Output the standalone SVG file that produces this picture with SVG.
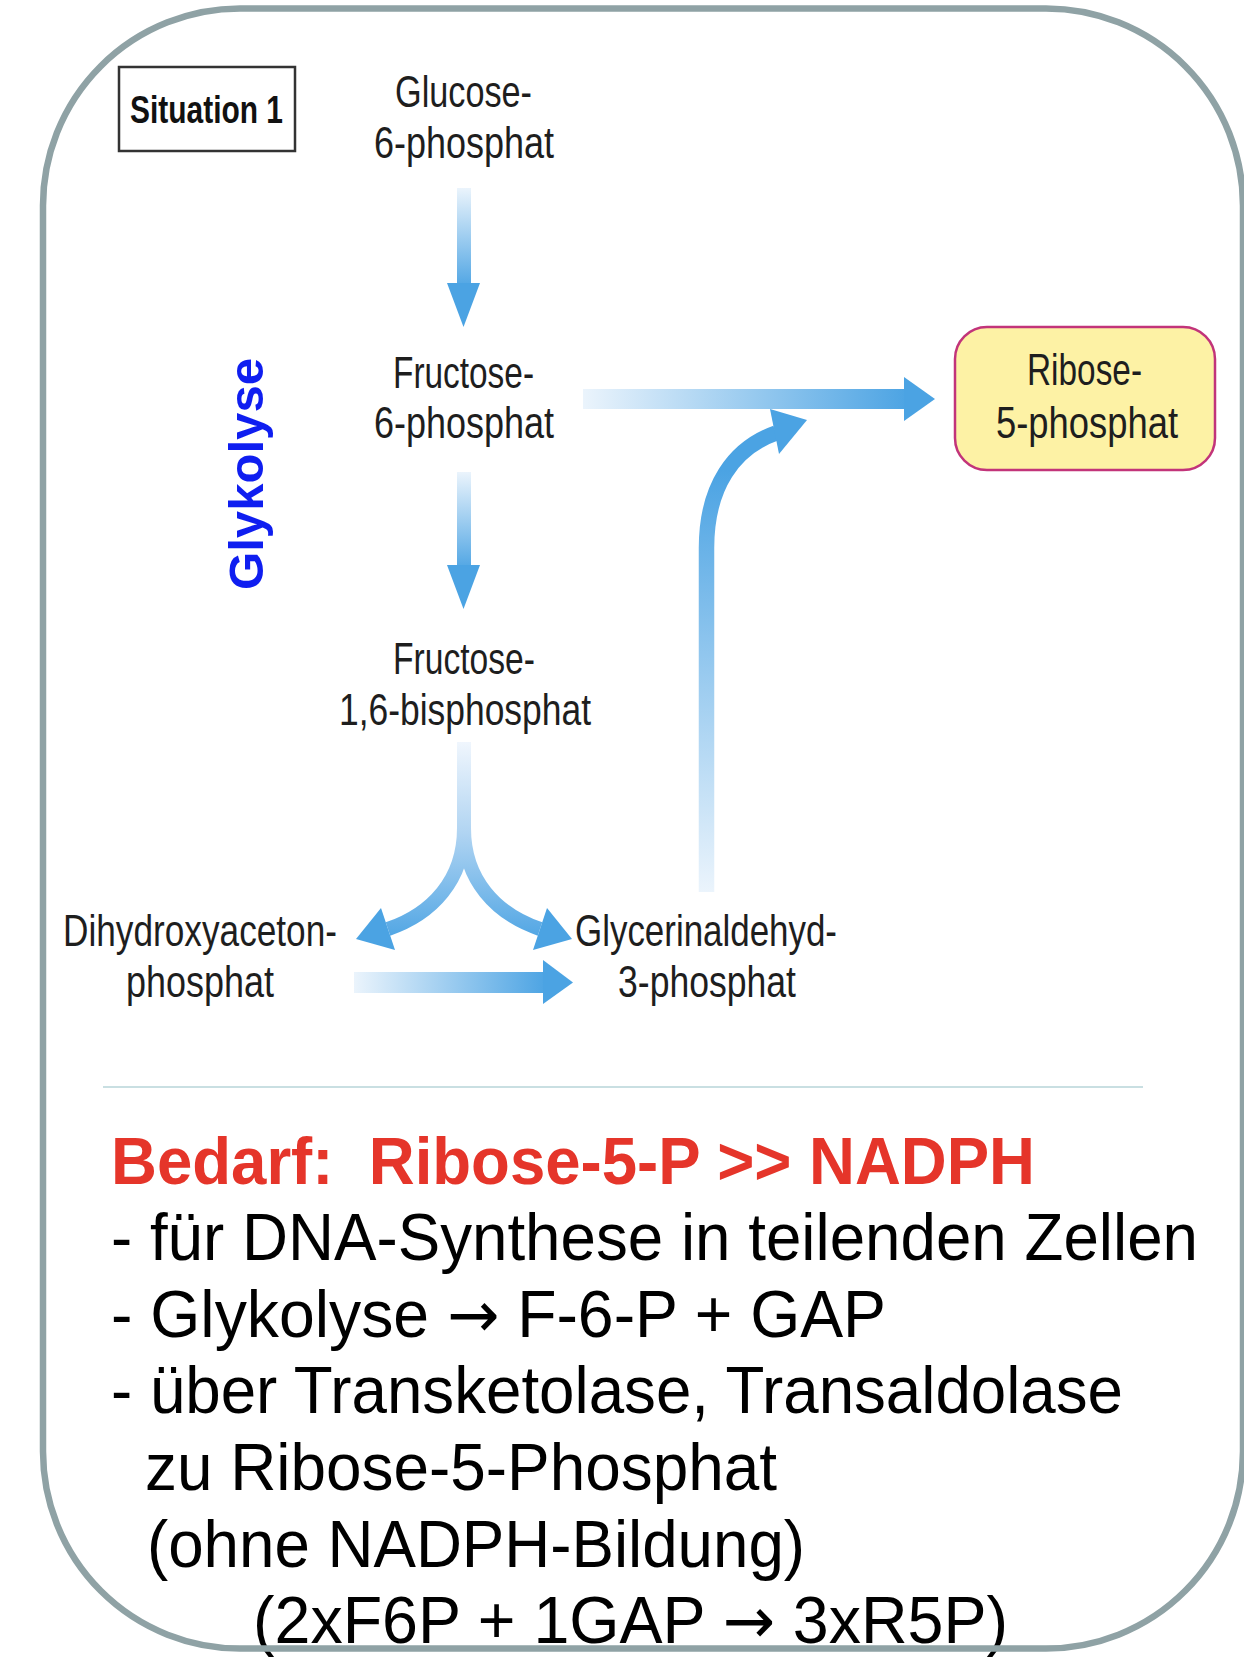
<svg xmlns="http://www.w3.org/2000/svg" width="1244" height="1670" viewBox="0 0 1244 1670">
<style>
.lbl{font-family:"Liberation Sans Narrow","Liberation Sans",Arial,sans-serif;font-size:45px;fill:#1e1e1e;text-anchor:start}
.body{font-family:"Liberation Sans",Arial,sans-serif;font-size:66px;fill:#000}
.red{font-family:"Liberation Sans",Arial,sans-serif;font-size:66px;font-weight:bold;fill:#e5352a;white-space:pre}
.arr{font-family:"DejaVu Sans",sans-serif;font-size:64px}
.arrowHead{fill:#4ba3e3}
</style>
<defs>
<linearGradient id="gv1" gradientUnits="userSpaceOnUse" x1="0" y1="188" x2="0" y2="290"><stop offset="0" stop-color="#ebf4fc"/><stop offset="1" stop-color="#4ba3e3"/></linearGradient>
<linearGradient id="gv2" gradientUnits="userSpaceOnUse" x1="0" y1="472" x2="0" y2="572"><stop offset="0" stop-color="#ebf4fc"/><stop offset="1" stop-color="#4ba3e3"/></linearGradient>
<linearGradient id="gsplit" gradientUnits="userSpaceOnUse" x1="0" y1="742" x2="0" y2="945"><stop offset="0" stop-color="#f0f6fd"/><stop offset="0.45" stop-color="#b0d4f2"/><stop offset="1" stop-color="#4ba3e3"/></linearGradient>
<linearGradient id="gh1" gradientUnits="userSpaceOnUse" x1="583" y1="0" x2="910" y2="0"><stop offset="0" stop-color="#ebf4fc"/><stop offset="1" stop-color="#4ba3e3"/></linearGradient>
<linearGradient id="gh2" gradientUnits="userSpaceOnUse" x1="354" y1="0" x2="548" y2="0"><stop offset="0" stop-color="#ebf4fc"/><stop offset="1" stop-color="#4ba3e3"/></linearGradient>
<linearGradient id="gcurve" gradientUnits="userSpaceOnUse" x1="0" y1="892" x2="0" y2="470"><stop offset="0" stop-color="#ebf4fc"/><stop offset="1" stop-color="#4ba3e3"/></linearGradient>
</defs>
<rect x="0" y="0" width="1244" height="1670" fill="#ffffff"/>

<g id="connectors">
  <rect x="457" y="188" width="14" height="96" fill="url(#gv1)"/>
  <polygon class="arrowHead" points="447,283 480,283 463.5,327"/>
  <rect x="457" y="472" width="14" height="94" fill="url(#gv2)"/>
  <polygon class="arrowHead" points="447,565 480,565 463.5,609"/>
  <rect x="583" y="389" width="322" height="20" fill="url(#gh1)"/>
  <polygon class="arrowHead" points="904,377 935,399 904,421"/>
  <path d="M464,742 L464,828 C464,880 432,914 388,929" fill="none" stroke="url(#gsplit)" stroke-width="14"/>
  <path d="M464,742 L464,828 C464,880 496,914 540,929" fill="none" stroke="url(#gsplit)" stroke-width="14"/>
  <polygon class="arrowHead" points="381,908 395,950 356,939"/>
  <polygon class="arrowHead" points="547,908 533,950 572,939"/>
  <rect x="354" y="972" width="190" height="21" fill="url(#gh2)"/>
  <polygon class="arrowHead" points="543,960 573,982.5 543,1004"/>
  <path d="M706.5,892 L706.5,548 C706.5,486 734,448 776,433" fill="none" stroke="url(#gcurve)" stroke-width="15.5"/>
  <polygon class="arrowHead" points="770,409 807,420 779,454"/>
</g>

<g id="situation">
  <rect x="119" y="67" width="176" height="84" fill="#fff" stroke="#333" stroke-width="2.5"/>
  <text x="130" y="123" font-family="'Liberation Sans Narrow','Liberation Sans',Arial,sans-serif" font-size="39" font-weight="bold" fill="#111" textLength="153" lengthAdjust="spacingAndGlyphs">Situation 1</text>
</g>

<g id="glykolyse">
  <text transform="translate(263,590) rotate(-90)" font-family="'Liberation Sans',Arial,sans-serif" font-size="49" font-weight="bold" fill="#0f1ef0" textLength="232" lengthAdjust="spacingAndGlyphs">Glykolyse</text>
</g>

<g id="g6p">
  <text class="lbl" x="395" y="107" textLength="137" lengthAdjust="spacingAndGlyphs">Glucose-</text>
  <text class="lbl" x="374" y="158" textLength="180" lengthAdjust="spacingAndGlyphs">6-phosphat</text>
</g>

<g id="f6p">
  <text class="lbl" x="393" y="388" textLength="141" lengthAdjust="spacingAndGlyphs">Fructose-</text>
  <text class="lbl" x="374" y="438" textLength="180" lengthAdjust="spacingAndGlyphs">6-phosphat</text>
</g>

<g id="f16bp">
  <text class="lbl" x="393" y="674" textLength="142" lengthAdjust="spacingAndGlyphs">Fructose-</text>
  <text class="lbl" x="339" y="725" textLength="252" lengthAdjust="spacingAndGlyphs">1,6-bisphosphat</text>
</g>

<g id="dhap">
  <text class="lbl" x="63" y="946" textLength="274" lengthAdjust="spacingAndGlyphs">Dihydroxyaceton-</text>
  <text class="lbl" x="126" y="997" textLength="148" lengthAdjust="spacingAndGlyphs">phosphat</text>
</g>

<g id="gap">
  <text class="lbl" x="575" y="946" textLength="262" lengthAdjust="spacingAndGlyphs">Glycerinaldehyd-</text>
  <text class="lbl" x="618" y="997" textLength="178" lengthAdjust="spacingAndGlyphs">3-phosphat</text>
</g>

<g id="r5p">
  <rect x="955" y="327" width="260" height="143" rx="32" ry="32" fill="#fdf2a5" stroke="#c2347a" stroke-width="2.5"/>
  <text class="lbl" x="1027" y="385" textLength="115" lengthAdjust="spacingAndGlyphs">Ribose-</text>
  <text class="lbl" x="996" y="438" textLength="182" lengthAdjust="spacingAndGlyphs">5-phosphat</text>
</g>

<line x1="103" y1="1087" x2="1143" y2="1087" stroke="#c9dfe2" stroke-width="2"/>

<g id="notes">
  <text class="red" x="111" y="1184" textLength="924" lengthAdjust="spacingAndGlyphs">Bedarf:  Ribose-5-P &gt;&gt; NADPH</text>
  <text class="body" x="111" y="1260" textLength="1087" lengthAdjust="spacingAndGlyphs">- für DNA-Synthese in teilenden Zellen</text>
  <text class="body" x="111" y="1337" textLength="775" lengthAdjust="spacingAndGlyphs">- Glykolyse <tspan class="arr">→</tspan> F-6-P + GAP</text>
  <text class="body" x="111" y="1413" textLength="1012" lengthAdjust="spacingAndGlyphs">- über Transketolase, Transaldolase</text>
  <text class="body" x="145" y="1490" textLength="632" lengthAdjust="spacingAndGlyphs">zu Ribose-5-Phosphat</text>
  <text class="body" x="147" y="1567" textLength="658" lengthAdjust="spacingAndGlyphs">(ohne NADPH-Bildung)</text>
  <text class="body" x="253" y="1643" textLength="755" lengthAdjust="spacingAndGlyphs">(2xF6P + 1GAP <tspan class="arr">→</tspan> 3xR5P)</text>
</g>

<rect id="frame" x="43" y="8.5" width="1200" height="1640" rx="197" ry="197" fill="none" stroke="#8fa2a5" stroke-width="6.5"/>
</svg>
